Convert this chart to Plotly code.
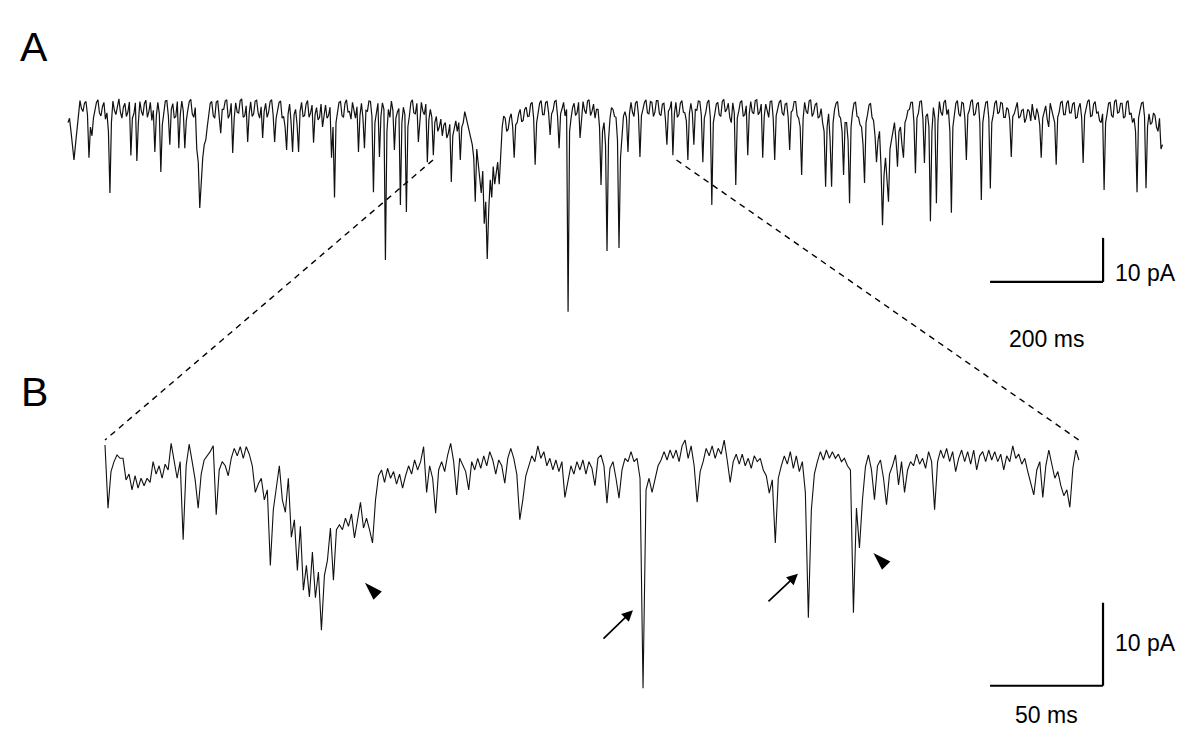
import numpy as np
import plotly.graph_objects as go

# ---------------- data ----------------
# Panel A: whole recording, current in pA, sampled every dt_a ms
dt_a = 2.65
current_a = [
    -4, -3.0, -6, -9, -12.5, -9, -6, -2, 1.0, -0.8, -1.5, 0.4, 0.8, -2.2, -12, -5, -7, -3.0, -1.0, 0.6,
    1.2, -1.8, -2.5, -0.4, 0.6, -3.2, -1.8, -6, -20, -4.0, 0.9, -1.2, -2.2, 0.2, 1.4, -1.6, -3.0, -0.5, 0.4, -2.6,
    -1.6, 0.7, -11.5, -3.0, -2.0, 0.5, -12.7, -4.0, 0.8, -1.4, -2.4, 0.3, 1.1, -2.8, -1.5, 0.6, -3.5, -1.2, -10.7, -2.5,
    0.6, -2.0, -15.2, -4.5, -1.8, 0.9, 1.0, -2.4, -9.0, -1.0, 0.3, -3.0, -2.6, 0.8, -9.8, -2.2, 0.9, -1.4, -9.8, -3.6,
    -1.2, 0.8, 1.3, -2.0, -2.8, -0.6, -10, -13, -23.4, -16, -12, -9, -8, -5, -2.0, 0.4, 0.8, -2.4, -3.0, 0.6,
    1.0, -2.2, -6.4, -1.0, -1.0, 0.9, 1.2, -3.0, -2.2, 0.4, -10.9, -3.0, 0.5, -1.6, -1.8, 1.0, 1.4, -2.8, -2.5, -0.2,
    -8.4, -2.0, 0.7, -2.6, -2.0, 0.9, 1.1, -1.8, -3.0, -0.4, -7.5, -1.5, 0.4, -2.8, -1.6, 0.8, 1.2, -2.2, -8.4, -3.0,
    -1.4, 0.6, 0.9, -3.0, -2.6, -5, -10.2, -2.0, 0.2, -4, -10.7, -2.2, -1.0, -4.5, -10.7, -1.5, 0.6, -2.6, -2.4, 0.2,
    1.0, -2.8, -1.8, 0.0, -8.6, -2.2, -0.6, -3.4, -2.8, 0.2, -5.0, -1.8, 0.0, -3.0, -2.4, -0.5, -12, -5, -21, -4.0,
    -2.0, 0.6, 0.8, -2.4, -2.8, 0.4, 1.2, -1.6, -1.5, -3.2, 0.6, -1.0, -3.0, -0.4, -10.7, -2.4, 0.4, -3.0, -9.8, -1.2,
    -1.4, 0.9, 0.8, -2.6, -19.8, -4.0, -1.2, 0.4, -11.8, -2.6, 0.5, -1.0, -35.2, -6.0, -1.0, -2.8, 0.9, -1.2, -10.2, -3.0,
    -1.6, -0.8, -22.7, -4.0, -0.5, -2.2, -24.3, -5.0, -2.5, 0.6, 1.2, -1.8, -2.0, 0.4, -8.4, -2.6, 0.6, -1.4, -2.2, 0.2,
    -13, -3.5, -1.0, -2.8, -11.4, -4.0, -2.6, -6.0, -5.0, -3.2, -7.0, -4.6, -4.0, -7.5, -6.5, -4.4, -17.5, -7.0, -5.0, -3.6,
    -6.0, -4.0, -12.5, -5.0, -4.0, -1.5, -3.0, -4.5, -6.0, -8.0, -9.0, -12, -22, -10, -14, -18, -20, -15, -27, -22,
    -35, -24, -17, -21, -14, -18, -16, -13, -18, -11, -5.0, -2.5, -3.0, -6.0, -5.5, -3.0, -2.0, -5.0, -12, -4.5,
    -4.0, -2.0, -1.0, -3.8, -3.5, -1.0, -0.5, -2.6, -2.5, 0.2, 0.6, -3.0, -13.6, -4.0, -1.5, 0.4, 1.0, -2.2, -2.2, 0.6,
    0.8, -1.8, -6.8, -2.0, -1.2, 0.8, 1.0, -2.6, -9.8, -2.0, -0.8, 0.6, -2.5, -1.0, -47, -6.0, -3.0, -0.6, 0.4, -2.4,
    -1.8, 0.6, -7.5, -2.2, 0.8, -1.2, -2.0, 0.9, 1.2, -2.4, -1.4, 0.2, -3.0, -1.0, -1.0, -5.0, -18.2, -6.0, -4.0, -9.0,
    -33.2, -8.0, -3.0, -0.6, -1.0, -2.6, -2.8, -8.0, -32.5, -12, -6.0, -2.5, -1.5, -3.0, -10.7, -2.0, 0.6, -1.6, -2.6, 0.4,
    0.9, -2.2, -11.8, -2.4, -1.0, 0.6, 1.2, -1.8, -2.0, 0.8, 0.6, -2.6, -1.6, 1.0, 1.0, -2.0, -2.4, 0.2, 0.4, -3.2,
    -9.0, -1.4, -0.8, 0.8, -11.4, -2.0, 0.6, -2.8, -2.2, 0.4, 1.0, -1.6, -1.8, -3.6, -12.5, -2.0, 0.4, -1.8, -9.0, -1.0,
    -1.2, 0.9, 0.8, -2.4, -13, -3.0, -1.6, 0.6, 1.1, -2.8, -22.7, -4.0, -2.0, 0.2, 0.6, -2.2, -2.6, 0.8, 1.3, -1.6,
    -1.0, 0.4, -2.8, -4.0, 0.5, -1.8, -18.2, -3.0, -1.4, 0.6, 1.0, -2.6, -2.2, -0.2, -11.4, -2.0, 0.8, -1.6, -2.0, 1.0,
    1.2, -2.2, -1.6, 0.2, -12, -2.6, 0.2, -1.0, -2.8, 0.8, 0.9, -3.0, -12.5, -2.4, -1.0, 0.6, 1.1, -1.8, -2.4, 0.2,
    0.4, -2.8, -10.2, -1.6, -1.2, 0.8, 0.8, -2.4, -3.0, -5.0, -15.9, -3.0, 0.6, -1.4, -2.0, 0.9, 1.2, -2.6, -1.8, 0.0,
    0.5, -3.0, -2.6, -0.8, -4.0, -6.0, -18.6, -5.0, -2.0, -8.0, -18.6, -4.0, -1.0, 0.4, 0.8, -2.4, -3.0, -6.0, -15.9, -4.0,
    -4.0, -8.0, -22.3, -5.0, -1.6, 0.4, 0.6, -2.6, -2.8, -4.5, -5.0, -9.0, -17.7, -4.0, -2.2, 0.0, 0.4, -2.8, -3.5, -7.0,
    -13, -8.0, -6.0, -14, -27.3, -16, -12, -18, -22, -10, -8.0, -5.0, -4.0, -8.0, -14, -6.0, -5.0, -9.0, -12, -4.0,
    -3.0, -1.2, -1.0, 0.6, 0.6, -4.0, -15.5, -3.0, -1.8, 0.8, 0.9, -3.2, -13.2, -2.6, -2.0, -5.0, -26.4, -6.0, -0.6, -3.0,
    -22.3, -4.0, 0.8, -1.6, -2.4, 0.6, 1.1, -2.2, -1.0, -6.0, -24.5, -5.0, -2.0, 0.4, 1.0, -2.0, -2.6, 0.6, 0.4, -3.0,
    -12.5, -2.2, -1.2, 0.8, 1.2, -2.4, -2.0, 0.2, 0.6, -4.0, -21.6, -4.0, -1.4, 0.6, 0.8, -3.0, -19, -4.0, -2.2, 0.4,
    1.0, -2.0, -1.6, 0.6, 0.4, -2.8, -2.8, -0.6, -1.0, -3.4, -11.8, -2.6, -2.0, -0.4, 0.6, -3.0, -2.6, -1.2, -1.0, -4.0,
    -3.0, -1.0, -1.4, -3.6, 0.2, -2.2, -3.4, -0.8, -2.0, -4.5, -12, -3.0, -1.2, -0.2, -3.2, -5.0, 0.4, -1.6, -2.6, -4.0,
    -13.6, -2.8, -1.6, 0.6, 0.8, -2.2, -2.2, 0.4, 1.0, -1.8, -1.8, 0.2, 0.6, -3.0, -2.8, -0.6, 0.4, -2.8, -13.2, -2.4,
    -1.0, 0.8, 1.2, -2.6, -2.4, 0.2, 0.8, -1.8, -1.6, -3.6, -4.0, -2.0, -19.3, -4.0, -2.0, 0.4, 0.6, -2.4, -2.8, 0.8,
    1.2, -1.8, -1.6, 0.4, 0.4, -3.0, -2.6, 0.6, 1.0, -2.2, -1.8, -4.0, -3.0, -6.0, -19.8, -3.0, -1.2, 0.4, 0.6, -2.6,
    -18.9, -5.0, -2.0, -4.4, -4.0, -1.8, -2.4, -5.0, -6.0, -3.0, -10, -9.0,
]

# Panel B: expanded segment, current in pA, sampled every dt_b ms
dt_b = 1.33
current_b = [
    1.2, -6.4, -2.0, -0.8, 0.0, -0.4, -0.4, -3.0, -2.3, -4.2,
    -2.5, -4.0, -2.8, -3.7, -2.8, -3.3, -0.8, -2.3, -1.3, -2.8,
    -1.1, -1.8, 1.4, -0.8, -2.8, -0.8, -10.2, -1.3, 1.3, -0.8,
    -3.0, -6.4, -2.3, -0.6, -0.1, 0.4, 1.1, -7.2, -1.8, -0.8,
    -1.3, -2.5, -0.4, 0.8, -0.1, 1.0, -0.4, 1.0, 0.1, -1.3,
    -4.5, -3.5, -2.8, -5.4, -4.2, -13.3, -6.6, -3.7, -1.3, -5.4,
    -6.9, -2.8, -9.9, -7.8, -13.9, -8.6, -16.3, -13.3, -17.1, -11.7,
    -17.2, -14.1, -21.1, -14.5, -12.7, -8.8, -15.1, -9.0, -8.4, -9.0,
    -7.6, -8.6, -7.1, -10.0, -7.6, -5.7, -8.8, -7.6, -9.0, -10.6,
    -5.4, -2.5, -1.8, -3.3, -1.6, -2.8, -2.0, -3.5, -2.3, -4.0,
    -2.5, -1.3, -2.3, -0.6, -1.8, -0.8, 1.0, -4.5, -1.3, -2.8,
    -7.0, -1.8, -0.8, -2.0, 0.0, 1.4, -0.8, -4.8, -0.4, -1.3,
    -2.0, -4.2, -0.8, -1.8, -0.4, -1.6, -0.1, -1.3, 0.4, -0.6,
    -2.3, -0.6, -1.3, -3.4, -0.4, 0.8, -0.4, -2.3, -7.8, -5.4,
    -2.5, -1.3, -0.1, -0.8, 1.1, -0.4, 0.4, -1.3, -0.4, -1.8,
    -0.6, -2.0, -0.8, -5.1, -3.0, -1.3, -2.3, -0.8, -1.8, -0.6,
    -2.3, -0.8, -1.6, -3.7, -0.4, 0.0, -1.3, -5.8, -1.6, -0.8,
    -2.8, -5.2, -1.8, -0.4, -0.8, 0.4, -0.8, -0.4, -2.8, -28.1,
    -4.2, -2.8, -4.5, -3.0, -1.3, -0.6, 0.4, -0.6, 0.6, -0.4,
    0.6, -0.8, 1.1, 1.8, -0.4, 1.1, -1.3, -5.7, -2.0, -0.8,
    0.8, -0.1, 1.1, -0.4, 0.8, 0.1, 1.8, -0.6, -3.3, -0.8,
    0.1, -1.1, 0.1, -1.3, -0.4, -1.6, -0.1, -0.8, -0.4, -1.8,
    -2.5, -4.6, -3.0, -10.6, -2.8, -1.3, -0.1, -1.1, 0.4, -1.6,
    -0.1, -2.0, -0.8, -4.5, -19.6, -6.6, -2.3, -0.8, 0.4, -0.6,
    0.6, -0.4, 0.4, -0.4, 0.1, -0.8, -0.4, -1.3, -1.8, -19.0,
    -6.4, -11.2, -5.4, -1.4, 0.0, -1.8, -5.4, -1.3, -0.6, -2.8,
    -6.0, -2.3, -1.3, 0.0, -3.6, -0.8, -4.5, -1.8, -0.8, -1.3,
    0.1, -1.1, -0.4, -1.6, 0.4, -0.8, -6.6, -0.8, 0.6, -0.4,
    0.8, -0.8, 0.4, -2.0, -0.4, 0.6, -0.8, 0.4, -1.1, 0.6,
    -1.8, -0.1, 0.4, -0.8, 0.6, -0.6, 0.4, -0.8, 0.1, -1.8,
    -0.1, -0.8, 1.1, -0.4, 0.1, -1.1, -0.4, -2.0, -3.5, -4.8,
    -1.8, -0.8, -5.1, -1.3, 0.6, -1.3, -2.8, -2.0, -3.7, -4.9,
    -4.2, -6.3, -1.6, 0.6, -0.6,
]

zoom_start_ms = 646          # where panel B begins inside panel A
zoom_level_a = -12.5         # pA level of connector start on trace A
zoom_level_b = 1.8           # pA level of connector end on trace B

scalebar_a = dict(t0=1632, dur=200, v0=-40.2, amp=10, tlabel="200 ms", vlabel="10 pA")
scalebar_b = dict(t0=391.6, dur=50, v0=-27.8, amp=10, tlabel="50 ms", vlabel="10 pA")

arrows_b = [(233.6, -18.7, 219.9, -22.3), (306.6, -14.3, 292.9, -17.8)]  # tip t, tip v, tail t, tail v
arrowheads_b_t = [115.0, 340.0]
arrowheads_b_v = [-15.4, -11.8]

# ---------------- layout geometry ----------------
OFF = 8                       # page body margin around the plot div
W, H = 1200 - 2 * OFF, 755 - 2 * OFF
# panel A: page pixel of (t=0, 0 pA) and pixels per unit
A_X0, A_Y0, A_PX_MS, A_PX_PA = 68, 105, 0.565, 4.4
B_X0, B_Y0, B_PX_MS, B_PX_PA = 105, 455, 2.26, 8.3

XA = [(OFF - A_X0) / A_PX_MS, (OFF + W - A_X0) / A_PX_MS]
YA = [(A_Y0 - (OFF + H)) / A_PX_PA, (A_Y0 - OFF) / A_PX_PA]
XB = [(OFF - B_X0) / B_PX_MS, (OFF + W - B_X0) / B_PX_MS]
YB = [(B_Y0 - (OFF + H)) / B_PX_PA, (B_Y0 - OFF) / B_PX_PA]

t_a = np.arange(len(current_a)) * dt_a
t_b = np.arange(len(current_b)) * dt_b


def to_paper(x, y, xr, yr):
    return (x - xr[0]) / (xr[1] - xr[0]), (y - yr[0]) / (yr[1] - yr[0])


def page_to_paper(px, py):
    return (px - OFF) / W, 1 - (py - OFF) / H


fig = go.Figure()
fig.add_trace(go.Scatter(x=t_a, y=current_a, mode="lines",
                         line=dict(color="#111111", width=1.2),
                         xaxis="x", yaxis="y", hoverinfo="skip", showlegend=False))
fig.add_trace(go.Scatter(x=t_b, y=current_b, mode="lines",
                         line=dict(color="#111111", width=1.1),
                         xaxis="x2", yaxis="y2", hoverinfo="skip", showlegend=False))
fig.add_trace(go.Scatter(x=arrowheads_b_t, y=arrowheads_b_v, mode="markers",
                         marker=dict(symbol="arrow", angle=-45, size=19, color="black",
                                     line=dict(width=0)),
                         xaxis="x2", yaxis="y2", hoverinfo="skip", showlegend=False))

shapes = []
annotations = []
font = "Liberation Sans, Arial, sans-serif"
lab = dict(size=23, family=font, color="black")

for sb, xr, yr in [(scalebar_a, "x", "y"), (scalebar_b, "x2", "y2")]:
    t1 = sb["t0"] + sb["dur"]
    shapes.append(dict(type="line", xref=xr, yref=yr, x0=sb["t0"], x1=t1,
                       y0=sb["v0"], y1=sb["v0"], line=dict(color="black", width=2.2)))
    shapes.append(dict(type="line", xref=xr, yref=yr, x0=t1, x1=t1,
                       y0=sb["v0"], y1=sb["v0"] + sb["amp"], line=dict(color="black", width=2.2)))
annotations += [
    dict(xref="x", yref="y", x=scalebar_a["t0"] + scalebar_a["dur"], y=scalebar_a["v0"],
         text=scalebar_a["vlabel"], showarrow=False, xanchor="left", yanchor="middle",
         xshift=10, yshift=9, font=lab),
    dict(xref="x", yref="y", x=scalebar_a["t0"] + scalebar_a["dur"] / 2, y=scalebar_a["v0"],
         text=scalebar_a["tlabel"], showarrow=False, xanchor="center", yanchor="middle",
         yshift=-57, font=lab),
    dict(xref="x2", yref="y2", x=scalebar_b["t0"] + scalebar_b["dur"], y=scalebar_b["v0"],
         text=scalebar_b["vlabel"], showarrow=False, xanchor="left", yanchor="middle",
         xshift=10, yshift=43, font=lab),
    dict(xref="x2", yref="y2", x=scalebar_b["t0"] + scalebar_b["dur"] / 2, y=scalebar_b["v0"],
         text=scalebar_b["tlabel"], showarrow=False, xanchor="center", yanchor="middle",
         yshift=-29, font=lab),
]
for letter, (px, py) in [("A", (34, 47)), ("B", (34, 392))]:
    ppx, ppy = page_to_paper(px, py)
    annotations.append(dict(xref="paper", yref="paper", x=ppx, y=ppy, text=letter, showarrow=False,
                            xanchor="center", yanchor="middle",
                            font=dict(size=41, family=font, color="black")))

# zoom connectors (dashed)
zoom_end_ms = zoom_start_ms + t_b[-1]
for ta, tb in [(zoom_start_ms, 0.0), (zoom_end_ms, t_b[-1])]:
    px0, py0 = to_paper(ta, zoom_level_a, XA, YA)
    px1, py1 = to_paper(tb, zoom_level_b, XB, YB)
    shapes.append(dict(type="line", xref="paper", yref="paper", x0=px0, y0=py0, x1=px1, y1=py1,
                       line=dict(color="black", width=1.4, dash="6px,5px")))

for tip_t, tip_v, tail_t, tail_v in arrows_b:
    annotations.append(dict(xref="x2", yref="y2", axref="x2", ayref="y2",
                            x=tip_t, y=tip_v, ax=tail_t, ay=tail_v, text="",
                            showarrow=True, arrowhead=2, arrowsize=1.3, arrowwidth=1.7,
                            arrowcolor="black"))

hidden = dict(visible=False, showgrid=False, zeroline=False, fixedrange=True)
fig.update_layout(
    width=W, height=H,
    margin=dict(l=0, r=0, t=0, b=0),
    paper_bgcolor="white", plot_bgcolor="white",
    xaxis=dict(range=XA, domain=[0, 1], anchor="y", **hidden),
    yaxis=dict(range=YA, domain=[0, 1], anchor="x", **hidden),
    xaxis2=dict(range=XB, domain=[0, 1], anchor="y2", overlaying="x", **hidden),
    yaxis2=dict(range=YB, domain=[0, 1], anchor="x2", overlaying="y", **hidden),
    shapes=shapes,
    annotations=annotations,
    showlegend=False,
)

fig.write_html("out.html")
